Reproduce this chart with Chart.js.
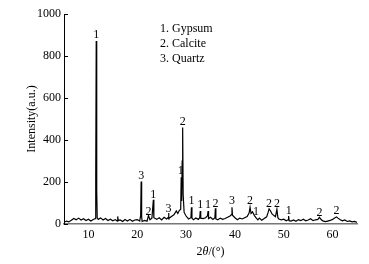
<!DOCTYPE html>
<html>
<head>
<meta charset="utf-8">
<script src="https://cdn.jsdelivr.net/npm/chart.js@4.4.0/dist/chart.umd.min.js"></script>
<style>
  body { margin: 0; background: #fff; }
  canvas { display: block; }
</style>
</head>
<body>
<canvas id="xrd" width="369" height="264"></canvas>
<script>
// diffraction angle (2theta, degrees) and intensity
const twoTheta = [
  5.0, 5.5, 6.0, 6.5, 7.0, 7.5, 8.0, 8.5, 9.0, 9.5,
  10.0, 10.5, 11.0, 11.4, 11.5, 11.6, 11.7, 11.8, 12.0, 12.5,
  13.0, 13.5, 14.0, 14.5, 15.0, 15.5, 15.9, 16.0, 16.1, 16.5,
  17.0, 17.5, 18.0, 18.5, 19.0, 19.5, 20.0, 20.5, 20.7, 20.8,
  20.9, 21.0, 21.5, 22.0, 22.3, 22.6, 23.0, 23.3, 23.4, 24.0,
  24.5, 25.0, 25.5, 26.0, 26.3, 26.4, 26.5, 27.0, 27.5, 28.0,
  28.3, 28.6, 28.9, 29.0, 29.1, 29.2, 29.3, 29.4, 29.6, 30.0,
  30.5, 31.0, 31.1, 31.2, 31.5, 32.0, 32.5, 32.8, 32.9, 33.0,
  33.5, 34.0, 34.4, 34.5, 34.6, 35.0, 35.5, 35.9, 36.0, 36.1,
  36.5, 37.0, 37.5, 38.0, 38.5, 39.0, 39.3, 39.4, 39.5, 40.0,
  40.5, 41.0, 41.5, 42.0, 42.5, 42.9, 43.1, 43.3, 43.6, 44.0,
  44.3, 44.7, 45.0, 45.5, 46.0, 46.5, 46.8, 47.0, 47.3, 47.6,
  48.0, 48.3, 48.6, 48.8, 49.0, 49.5, 50.0, 50.5, 50.9, 51.0,
  51.1, 51.5, 52.0, 52.5, 53.0, 53.5, 54.0, 54.5, 55.0, 55.5,
  56.0, 56.5, 57.0, 57.3, 57.7, 58.0, 58.5, 59.0, 59.5, 60.0,
  60.5, 60.8, 61.1, 61.5, 62.0, 62.5, 63.0, 63.5, 64.0, 64.5,
  65.0
];
const intensity = [
  8, 14, 10, 18, 26, 20, 28, 19, 25, 17,
  23, 14, 21, 26, 220, 872, 160, 30, 22, 29,
  19, 26, 17, 23, 15, 21, 14, 36, 16, 19,
  12, 21, 14, 22, 13, 19, 21, 14, 40, 202,
  35, 12, 17, 13, 40, 20, 28, 115, 30, 22,
  30, 19, 32, 24, 30, 52, 26, 36, 44, 62,
  50, 64, 70, 222, 110, 300, 460, 140, 55, 38,
  24, 30, 80, 28, 20, 29, 22, 30, 62, 28,
  26, 30, 40, 62, 26, 32, 22, 30, 75, 24,
  20, 28, 22, 26, 32, 38, 45, 80, 42, 30,
  20, 28, 24, 30, 36, 52, 80, 50, 58, 40,
  30, 20, 28, 18, 26, 34, 55, 72, 62, 48,
  40, 35, 70, 30, 24, 20, 23, 15, 20, 38,
  16, 14, 19, 13, 21, 16, 23, 15, 19, 25,
  16, 20, 22, 32, 20, 15, 11, 14, 17, 22,
  30, 34, 28, 21, 15, 19, 12, 15, 10, 12,
  8
];

// phase labels above the peaks: 1 gypsum, 2 calcite, 3 quartz
const labelAngle = [11.6, 20.8, 22.3, 23.3, 26.4, 28.9, 29.3, 31.1, 32.9, 34.5, 36.0, 39.4, 43.1, 44.3, 47.0, 48.6, 51.0, 57.3, 60.8];
const labelLevel = [885, 212, 45, 126, 55, 236, 470, 93, 74, 74, 83, 93, 93, 45, 83, 79, 50, 40, 50];
const labelText = ["1", "3", "2", "1", "3", "1", "2", "1", "1", "1", "2", "3", "2", "1", "2", "2", "1", "2", "2"];

const legendLines = ["1. Gypsum", "2. Calcite", "3. Quartz"];
const xTicks = [10, 20, 30, 40, 50, 60];
const yTicks = [0, 200, 400, 600, 800, 1000];

const serif = "'Liberation Serif', 'DejaVu Serif', serif";

const points = twoTheta.map((t, i) => ({ x: t, y: intensity[i] }));

const extras = {
  id: "extras",
  afterDraw(chart) {
    const { ctx, chartArea, scales } = chart;
    const xs = scales.x, ys = scales.y;
    ctx.save();
    // inward ticks on the y axis
    ctx.strokeStyle = "#000";
    ctx.lineWidth = 1;
    yTicks.forEach(v => {
      const py = Math.round(ys.getPixelForValue(v)) + 0.5;
      ctx.beginPath();
      ctx.moveTo(chartArea.left, py);
      ctx.lineTo(chartArea.left + 4, py);
      ctx.stroke();
    });
    // peak labels
    ctx.fillStyle = "#000";
    ctx.font = "12px " + serif;
    ctx.textAlign = "center";
    ctx.textBaseline = "alphabetic";
    labelAngle.forEach((a, i) => {
      ctx.fillText(labelText[i], xs.getPixelForValue(a), ys.getPixelForValue(labelLevel[i]));
    });
    // phase key
    ctx.textAlign = "left";
    ctx.textBaseline = "middle";
    legendLines.forEach((s, i) => {
      ctx.fillText(s, 160, 29 + i * 15);
    });
    // x axis title with italic theta
    const parts = [["2", ""], ["\u03b8", "italic "], ["/(\u00b0)", ""]];
    let w = 0;
    parts.forEach(p => { ctx.font = p[1] + "12px " + serif; w += ctx.measureText(p[0]).width; });
    let px = (chartArea.left + chartArea.right) / 2 - w / 2;
    parts.forEach(p => {
      ctx.font = p[1] + "12px " + serif;
      ctx.fillText(p[0], px, 252);
      px += ctx.measureText(p[0]).width;
    });
    ctx.restore();
  }
};

new Chart(document.getElementById("xrd").getContext("2d"), {
  type: "line",
  data: {
    datasets: [
      {
        data: points,
        borderColor: "#000",
        borderWidth: 1.2,
        pointRadius: 0,
        tension: 0,
        fill: false,
      },
    ],
  },
  options: {
    responsive: false,
    animation: false,
    layout: { padding: { top: 14, right: 12, left: 0, bottom: 0 } },
    plugins: {
      legend: { display: false },
      tooltip: { enabled: false },
    },
    scales: {
      x: {
        type: "linear",
        min: 5,
        max: 65,
        afterBuildTicks: s => { s.ticks = xTicks.map(v => ({ value: v })); },
        afterFit: s => { s.height = 40; },
        grid: { display: false, drawTicks: false },
        border: { color: "#777", width: 1.5 },
        ticks: { padding: 4, color: "#000", font: { family: serif, size: 12 }, callback: v => String(v) },
      },
      y: {
        min: 0,
        max: 1000,
        afterBuildTicks: s => { s.ticks = yTicks.map(v => ({ value: v })); },
        afterFit: s => { s.width = 64; },
        grid: { display: false, drawTicks: false },
        border: { color: "#000", width: 1 },
        ticks: { padding: 3, color: "#000", font: { family: serif, size: 12 }, callback: v => String(v) },
        title: {
          display: true,
          text: "Intensity(a.u.)",
          color: "#000",
          padding: { top: 25, bottom: 0 },
          font: { family: serif, size: 12 },
        },
      },
    },
  },
  plugins: [extras],
});
</script>
</body>
</html>
